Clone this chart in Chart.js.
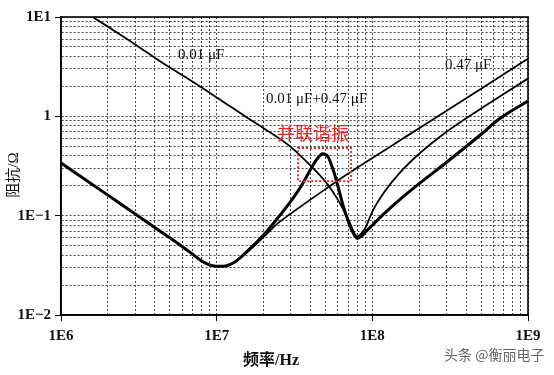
<!DOCTYPE html>
<html>
<head>
<meta charset="utf-8">
<script src="https://cdn.jsdelivr.net/npm/chart.js@4.4.0/dist/chart.umd.min.js"></script>
<style>
  html, body { margin: 0; padding: 0; background: #fff; }
  #wrap { width: 554px; height: 375px; position: relative; }
</style>
</head>
<body>
<div id="wrap"><canvas id="impChart"></canvas></div>
<script>
// decade ticks and their labels
const xTickValues = [1e6, 1e7, 1e8, 1e9];
const xTickLabels = ['1E6', '1E7', '1E8', '1E9'];
const yTickValues = [0.01, 0.1, 1, 10];
const yTickLabels = ['1E\u22122', '1E\u22121', '1', '1E1'];

// 0.01 uF capacitor (thin)
const freq001 = [1.6e6, 2e6, 3e6, 4.3e6, 6e6, 1e7, 1.6e7, 2e7, 3e7, 4e7, 5e7, 6e7, 7e7, 8e7, 9e7, 1e8, 1.2e8, 1.5e8, 2e8, 3e8, 5e8, 1e9];
const z001 = [10, 8, 5.3, 3.6, 2.6, 1.55, 0.95, 0.76, 0.49, 0.32, 0.22, 0.145, 0.092, 0.062, 0.075, 0.11, 0.175, 0.27, 0.42, 0.7, 1.2, 2.4];

// 0.47 uF capacitor (thin)
const freq047 = [1e6, 2e6, 3e6, 4e6, 5e6, 6e6, 7e6, 8e6, 9e6, 1e7, 1.1e7, 1.3e7, 1.6e7, 2e7, 2.5e7, 3e7, 4e7, 5e7, 7e7, 1e8, 1.5e8, 2e8, 3e8, 5e8, 1e9];
const z047 = [0.34, 0.161, 0.104, 0.076, 0.06, 0.049, 0.041, 0.035, 0.032, 0.031, 0.031, 0.034, 0.044, 0.061, 0.085, 0.105, 0.145, 0.185, 0.265, 0.38, 0.57, 0.76, 1.14, 1.9, 3.8];

// 0.01 uF + 0.47 uF in parallel (thick)
const freqPar = [1e6, 2e6, 3e6, 4e6, 5e6, 6e6, 7e6, 8e6, 9e6, 1e7, 1.1e7, 1.3e7, 1.6e7, 2e7, 2.5e7, 3e7, 3.5e7, 4e7, 4.4e7, 4.8e7, 5.2e7, 5.6e7, 6e7, 6.5e7, 7e7, 7.5e7, 8e7, 8.5e7, 9e7, 1e8, 1.2e8, 1.5e8, 2e8, 3e8, 5e8, 6.4e8, 1e9];
const zPar = [0.34, 0.161, 0.104, 0.076, 0.06, 0.049, 0.041, 0.035, 0.032, 0.031, 0.031, 0.034, 0.045, 0.064, 0.097, 0.14, 0.2, 0.29, 0.37, 0.42, 0.39, 0.29, 0.2, 0.125, 0.088, 0.068, 0.059, 0.062, 0.068, 0.08, 0.106, 0.145, 0.21, 0.345, 0.66, 0.92, 1.43];

// parallel resonance box (frequency / impedance corners)
const boxFreq = [3.33e7, 7.3e7];
const boxZ = [0.223, 0.48];

const serif = '"Liberation Serif", "Times New Roman", serif';

function toPoints(xs, ys) {
    return xs.map((x, i) => ({ x: x, y: ys[i] }));
}

// 1..9 per decade, for the dotted grid
function decadeTicks(lo, hi) {
    const t = [];
    for (let e = lo; e < hi; e++) {
        for (let m = 1; m < 10; m++) t.push({ value: m * Math.pow(10, e) });
    }
    t.push({ value: Math.pow(10, hi) });
    return t;
}

function findLabel(values, labels, v) {
    for (let i = 0; i < values.length; i++) {
        if (Math.abs(v / values[i] - 1) < 1e-6) return labels[i];
    }
    return '';
}

function isDecade(v) {
    const l = Math.log10(v);
    return Math.abs(l - Math.round(l)) < 1e-6;
}

const annotations = {
    id: 'annotations',
    afterDatasetsDraw(chart) {
        const { ctx, chartArea, scales } = chart;
        ctx.save();

        // frame
        ctx.strokeStyle = '#000';
        ctx.lineWidth = 1.6;
        ctx.strokeRect(chartArea.left, chartArea.top, chartArea.right - chartArea.left, chartArea.bottom - chartArea.top);

        // red dotted box
        const bx1 = scales.x.getPixelForValue(boxFreq[0]);
        const bx2 = scales.x.getPixelForValue(boxFreq[1]);
        const by1 = scales.y.getPixelForValue(boxZ[1]);
        const by2 = scales.y.getPixelForValue(boxZ[0]);
        ctx.strokeStyle = '#e8262a';
        ctx.lineWidth = 1.8;
        ctx.setLineDash([2, 2]);
        ctx.strokeRect(bx1, by1, bx2 - bx1, by2 - by1);
        ctx.setLineDash([]);

        // curve labels
        ctx.fillStyle = '#111';
        ctx.textBaseline = 'middle';
        ctx.textAlign = 'left';
        ctx.font = '15px ' + serif;
        ctx.fillText('0.01 \u03bcF', 178, 55);
        ctx.fillText('0.01 \u03bcF+0.47 \u03bcF', 266, 99);
        ctx.fillText('0.47 \u03bcF', 445, 65);

        ctx.fillStyle = '#e8262a';
        ctx.font = '18px "Noto Sans CJK SC", sans-serif';
        ctx.fillText('并联谐振', 277, 133);

        // axis titles
        ctx.fillStyle = '#111';
        ctx.textAlign = 'center';
        ctx.font = 'bold 16px ' + serif + ', "Noto Sans CJK SC"';
        ctx.fillText('频率/Hz', 271, 361);

        ctx.save();
        ctx.translate(14, 175);
        ctx.rotate(-Math.PI / 2);
        ctx.font = '15px ' + serif + ', "Noto Sans CJK SC"';
        ctx.fillText('阻抗/Ω', 0, 0);
        ctx.restore();

        // watermark
        ctx.fillStyle = '#666';
        ctx.textAlign = 'left';
        ctx.font = '14px "Noto Sans CJK SC", sans-serif';
        ctx.fillText('头条 @衡丽电子', 444, 355);

        ctx.restore();
    }
};

const ctx = document.getElementById('impChart').getContext('2d');
const chart = new Chart(ctx, {
    type: 'line',
    data: {
        datasets: [
            {
                label: '0.01 uF',
                data: toPoints(freq001, z001),
                borderColor: '#000',
                borderWidth: 1.8,
                pointRadius: 0,
                cubicInterpolationMode: 'monotone',
                fill: false
            },
            {
                label: '0.47 uF',
                data: toPoints(freq047, z047),
                borderColor: '#000',
                borderWidth: 1.8,
                pointRadius: 0,
                cubicInterpolationMode: 'monotone',
                fill: false
            },
            {
                label: '0.01 uF + 0.47 uF',
                data: toPoints(freqPar, zPar),
                borderColor: '#000',
                borderWidth: 3,
                pointRadius: 0,
                cubicInterpolationMode: 'monotone',
                fill: false
            }
        ]
    },
    options: {
        responsive: true,
        maintainAspectRatio: false,
        animation: false,
        layout: {
            padding: { left: 0, right: 26, top: 17, bottom: 0 }
        },
        plugins: {
            legend: { display: false },
            tooltip: { enabled: false }
        },
        scales: {
            x: {
                type: 'logarithmic',
                min: 1e6,
                max: 1e9,
                afterBuildTicks: function(axis) {
                    axis.ticks = decadeTicks(6, 9);
                },
                afterFit: function(axis) {
                    axis.height = 60;
                },
                ticks: {
                    autoSkip: false,
                    maxRotation: 0,
                    padding: 6,
                    color: '#111',
                    font: { family: serif, size: 15, weight: 'bold' },
                    callback: function(value) {
                        return findLabel(xTickValues, xTickLabels, value);
                    }
                },
                grid: {
                    color: '#444',
                    lineWidth: 1,
                    tickLength: 6,
                    tickColor: function(c) {
                        return c.tick && isDecade(c.tick.value) ? '#000' : 'rgba(0,0,0,0)';
                    }
                },
                border: { display: true, color: '#000', width: 1.6, dash: [2, 2] }
            },
            y: {
                type: 'logarithmic',
                min: 0.01,
                max: 10,
                afterBuildTicks: function(axis) {
                    axis.ticks = decadeTicks(-2, 1);
                },
                afterFit: function(axis) {
                    axis.width = 61;
                },
                ticks: {
                    autoSkip: false,
                    padding: 4,
                    color: '#111',
                    font: { family: serif, size: 15, weight: 'bold' },
                    callback: function(value) {
                        return findLabel(yTickValues, yTickLabels, value);
                    }
                },
                grid: {
                    color: '#444',
                    lineWidth: 1,
                    tickLength: 6,
                    tickColor: function(c) {
                        return c.tick && isDecade(c.tick.value) ? '#000' : 'rgba(0,0,0,0)';
                    }
                },
                border: { display: true, color: '#000', width: 1.6, dash: [2, 2] }
            }
        }
    },
    plugins: [annotations]
});
</script>
</body>
</html>
